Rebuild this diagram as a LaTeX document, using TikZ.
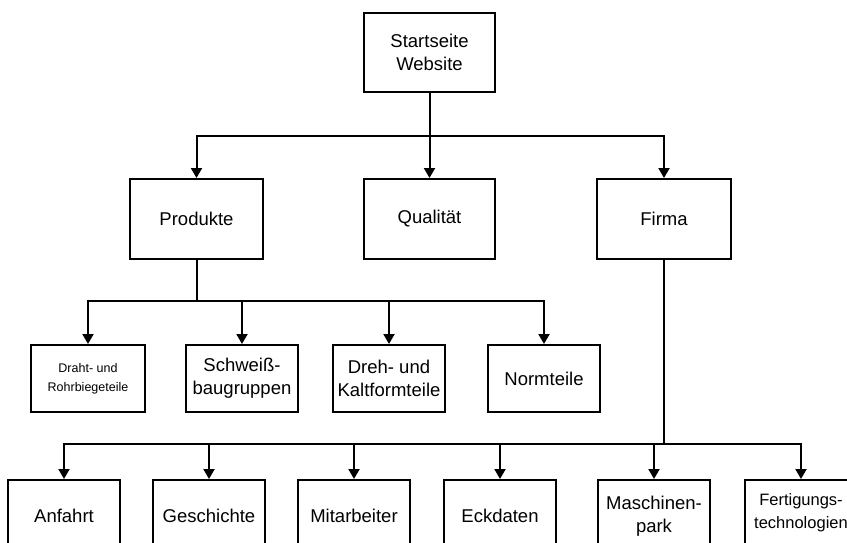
\documentclass[tikz,border=0pt]{standalone}
\usepackage{fontspec}
\setmainfont{Liberation Sans}
\usetikzlibrary{positioning,arrows.meta}
\tikzset{
  box/.style={draw,line width=2pt,inner sep=0pt,align=center,font=\fontsize{18.5}{23}\selectfont},
  ebene2/.style={box,minimum width=133pt,minimum height=80pt},
  ebene3/.style={box,minimum width=112pt,minimum height=67pt},
  ebene4/.style={box,minimum width=112pt,minimum height=72pt},
  linie/.style={line width=2pt},
  pfeil/.style={line width=2pt,-{Triangle[width=11pt,length=10pt]}}
}

\begin{document}
\begin{tikzpicture}[x=1pt,y=1pt]
\useasboundingbox (0,0) rectangle (847,-542);

\node(start)[box,minimum width=131pt,minimum height=79pt] at (429.5,-52.5){Startseite\\Website};
\node(qualitaet)[ebene2,minimum width=131pt,below=85pt of start]{Qualität};
\node(produkte)[ebene2,left=99pt of qualitaet]{Produkte};
\node(firma)[ebene2,minimum width=134pt,right=100pt of qualitaet]{Firma};

\node(draht)[ebene3,minimum width=114pt,below=84pt of produkte.south west,anchor=north west,xshift=-99pt,font=\fontsize{12.5}{19}\selectfont]{Draht- und\\Rohrbiegeteile};
\node(schweiss)[ebene3,right=39pt of draht]{Schweiß-\\baugruppen};
\node(dreh)[ebene3,right=33pt of schweiss]{Dreh- und\\Kaltformteile};
\node(normteile)[ebene3,right=41pt of dreh]{Normteile};

\node(anfahrt)[ebene4,below=66pt of draht.south west,anchor=north west,xshift=-23pt]{Anfahrt};
\node(geschichte)[ebene4,right=31pt of anfahrt.north east,anchor=north west]{Geschichte};
\node(mitarbeiter)[ebene4,right=31pt of geschichte.north east,anchor=north west]{Mitarbeiter};
\node(eckdaten)[ebene4,right=32pt of mitarbeiter.north east,anchor=north west]{Eckdaten};
\node(maschinen)[ebene4,right=40pt of eckdaten.north east,anchor=north west]{Maschinen-\\park};
\node(fertigung)[ebene4,minimum height=65pt,right=33pt of maschinen.north east,anchor=north west,font=\fontsize{16.5}{23}\selectfont]{Fertigungs-\\technologien};

\coordinate[below=43pt of start](bus1);
\coordinate[below=41pt of produkte](bus2);
\coordinate[below=184pt of firma](bus3);

\draw[linie](start)--(bus1);
\draw[pfeil](bus1)-|(produkte);
\draw[pfeil](bus1)--(qualitaet);
\draw[pfeil](bus1)-|(firma);

\draw[linie](produkte)--(bus2);
\foreach \ziel in {draht,schweiss,dreh,normteile}
  \draw[pfeil](bus2)-|(\ziel);

\draw[linie](firma)--(bus3);
\foreach \ziel in {anfahrt,geschichte,mitarbeiter,eckdaten,maschinen,fertigung}
  \draw[pfeil](bus3)-|(\ziel);
    \end{tikzpicture}
\end{document}
